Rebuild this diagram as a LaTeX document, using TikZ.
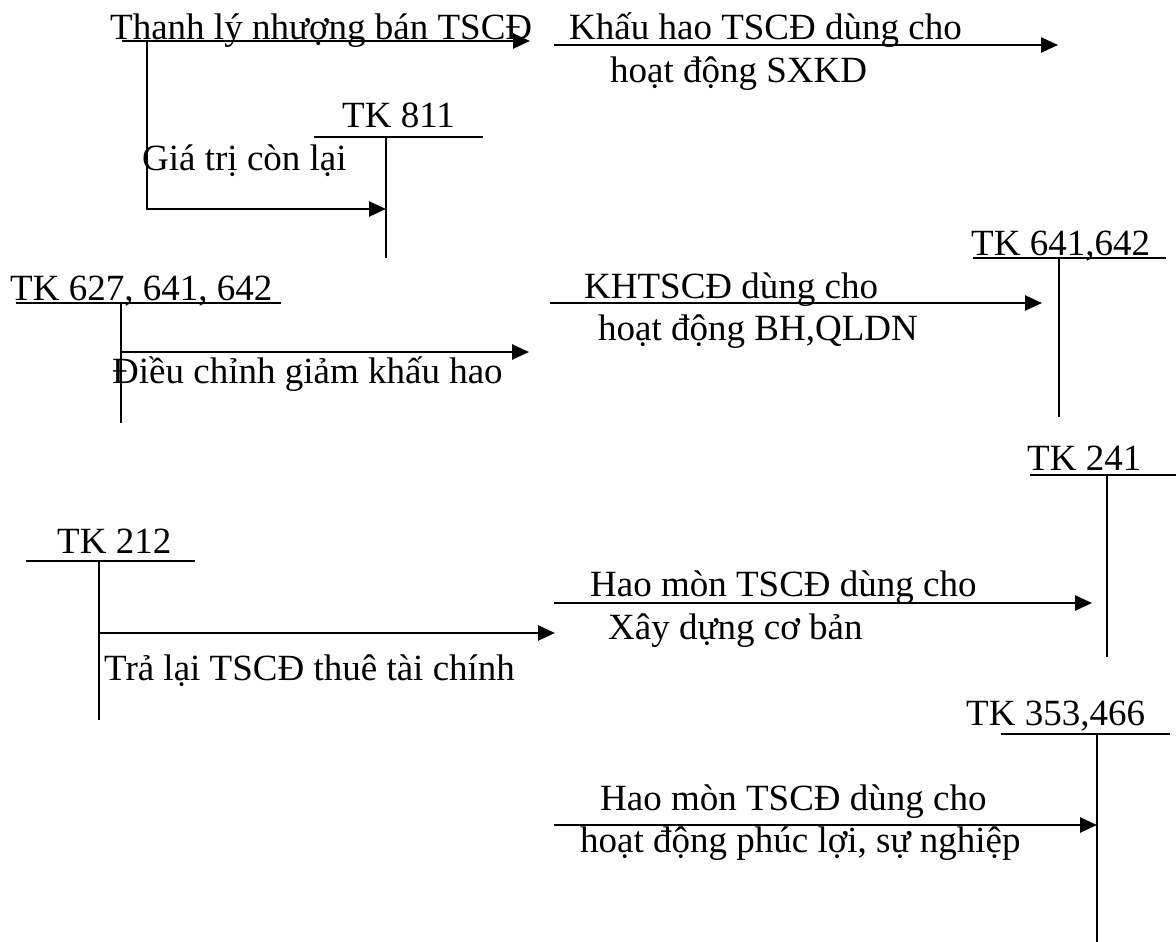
\documentclass[tikz,border=0pt]{standalone}
\usepackage{fontspec}
\setmainfont{Liberation Serif}
\usetikzlibrary{arrows.meta}
\begin{document}
\begin{tikzpicture}[x=1pt,y=-1pt,
  tline/.style={line width=2pt},
  arr/.style={line width=2.6pt,-{Triangle[length=17pt,width=15pt]}},
  lbl/.style={anchor=base west,inner sep=0pt,font=\fontsize{37}{44}\selectfont}]
\useasboundingbox (0,0) rectangle (1176,942);

% ---- T accounts ----
% TK 811
\node[lbl] (t811) at (342,128) {TK 811};
\coordinate (t811l) at (314,137); \coordinate (t811r) at (483,137);
\coordinate (t811t) at (386,137); \coordinate (t811b) at (386,258);
\draw[tline] (t811l) -- (t811r);
\draw[tline] (t811t) -- (t811b);
% TK 641,642
\node[lbl] (t641) at (971,255) {TK 641,642};
\coordinate (t641l) at (973,258); \coordinate (t641r) at (1166,258);
\coordinate (t641t) at (1059,258); \coordinate (t641b) at (1059,417);
\draw[tline] (t641l) -- (t641r);
\draw[tline] (t641t) -- (t641b);
% TK 627, 641, 642
\node[lbl] (t627) at (10,300) {TK 627, 641, 642};
\coordinate (t627l) at (16,303); \coordinate (t627r) at (281,303);
\coordinate (t627t) at (121,303); \coordinate (t627b) at (121,423);
\draw[tline] (t627l) -- (t627r);
\draw[tline] (t627t) -- (t627b);
% TK 241
\node[lbl] (t241) at (1027,470) {TK 241};
\coordinate (t241l) at (1030,475); \coordinate (t241r) at (1176,475);
\coordinate (t241t) at (1107,475); \coordinate (t241b) at (1107,657);
\draw[tline] (t241l) -- (t241r);
\draw[tline] (t241t) -- (t241b);
% TK 212
\node[lbl] (t212) at (57,553) {TK 212};
\coordinate (t212l) at (26,561); \coordinate (t212r) at (195,561);
\coordinate (t212t) at (99,561); \coordinate (t212b) at (99,720);
\draw[tline] (t212l) -- (t212r);
\draw[tline] (t212t) -- (t212b);
% TK 353,466
\node[lbl] (t353) at (966,725) {TK 353,466};
\coordinate (t353l) at (1001,734); \coordinate (t353r) at (1170,734);
\coordinate (t353t) at (1097,734); \coordinate (t353b) at (1097,942);
\draw[tline] (t353l) -- (t353r);
\draw[tline] (t353t) -- (t353b);

% ---- arrows and labels ----
\node[lbl] (l1) at (110,40) {Thanh lý nhượng bán TSCĐ};
\coordinate (a1s) at (122,41); \coordinate (a1e) at (530,41);
\draw[arr] (a1s) -- (a1e);

\node[lbl] (l2a) at (569,40) {Khấu hao TSCĐ dùng cho};
\node[lbl] (l2b) at (610,82) {hoạt động SXKD};
\coordinate (a2s) at (554,45); \coordinate (a2e) at (1058,45);
\draw[arr] (a2s) -- (a2e);

\node[lbl] (l3) at (142,170) {Giá trị còn lại};
\coordinate (a3s) at (147,41); \coordinate (a3c) at (147,209); \coordinate (a3e) at (386,209);
\draw[arr] (a3s) -- (a3c) -- (a3e);

\node[lbl] (l4) at (112,383) {Điều chỉnh giảm khấu hao};
\coordinate (a4s) at (121,352); \coordinate (a4e) at (529,352);
\draw[arr] (a4s) -- (a4e);

\node[lbl] (l5a) at (584,298) {KHTSCĐ dùng cho};
\node[lbl] (l5b) at (598,340) {hoạt động BH,QLDN};
\coordinate (a5s) at (550,303); \coordinate (a5e) at (1042,303);
\draw[arr] (a5s) -- (a5e);

\node[lbl] (l6) at (104,680) {Trả lại TSCĐ thuê tài chính};
\coordinate (a6s) at (99,633); \coordinate (a6e) at (555,633);
\draw[arr] (a6s) -- (a6e);

\node[lbl] (l7a) at (590,596) {Hao mòn TSCĐ dùng cho};
\node[lbl] (l7b) at (608,639) {Xây dựng cơ bản};
\coordinate (a7s) at (554,603); \coordinate (a7e) at (1092,603);
\draw[arr] (a7s) -- (a7e);

\node[lbl] (l8a) at (600,810) {Hao mòn TSCĐ dùng cho};
\node[lbl] (l8b) at (580,852) {hoạt động phúc lợi, sự nghiệp};
\coordinate (a8s) at (554,825); \coordinate (a8e) at (1097,825);
\draw[arr] (a8s) -- (a8e);
\end{tikzpicture}
\end{document}
